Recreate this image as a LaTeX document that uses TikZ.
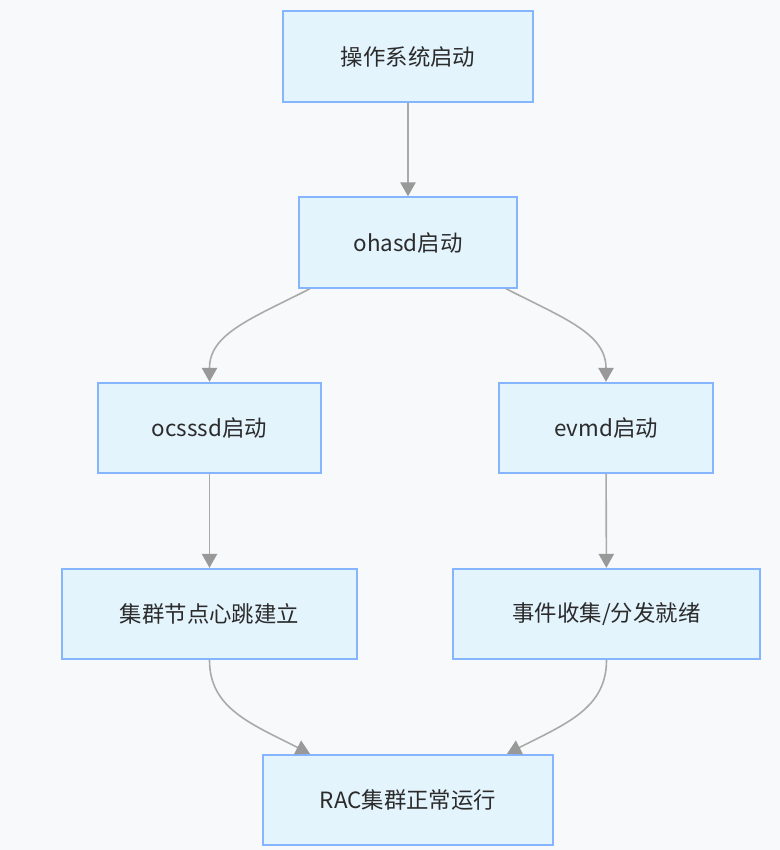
\documentclass[tikz,border=0pt]{standalone}
\usepackage{fontspec}
\setmainfont{Noto Sans CJK SC}
\usetikzlibrary{arrows.meta}
\definecolor{bgc}{HTML}{F8F9FA}
\definecolor{boxfill}{HTML}{E3F4FD}
\definecolor{boxline}{HTML}{85B5FF}
\definecolor{linec}{HTML}{AAAAAA}
\definecolor{tipc}{HTML}{999999}
\definecolor{txt}{HTML}{2B2B2B}
\begin{document}
\begin{tikzpicture}[x=0.75pt,y=-0.75pt,
  box/.style={draw=boxline,fill=boxfill,line width=1.3pt,minimum height=68pt,inner sep=0pt,text=txt,font=\fontsize{16.8}{20}\selectfont},
  arr/.style={draw=linec,line width=1.2pt,-{Triangle[width=11.5pt,length=10.5pt,fill=tipc,color=tipc]}}]
\fill[bgc] (0,0) rectangle (780,850);
\useasboundingbox (0,0) rectangle (780,850);
\node[box,minimum width=187.5pt] (b1) at (408,56.5) {操作系统启动};
\node[box,minimum width=163.5pt] (b2) at (408,242.5) {ohasd启动};
\node[box,minimum width=167.25pt] (b3) at (209.5,428) {ocsssd启动};
\node[box,minimum width=160.5pt] (b4) at (606,428) {evmd启动};
\node[box,minimum width=221.25pt] (b5) at (209.5,614) {集群节点心跳建立};
\node[box,minimum width=230.25pt] (b6) at (606.5,614) {事件收集/分发就绪};
\node[box,minimum width=217.5pt] (b7) at (408,800) {RAC集群正常运行};
\draw[arr] (b1) -- (b2);
\draw[arr] ([shift={(-98,0)}]b2.south) .. controls +(-59,30) and +(0,-48) .. (b3.north);
\draw[arr] ([shift={(98,0)}]b2.south) .. controls +(59,30) and +(0,-48) .. (b4.north);
\draw[arr] (b3) -- (b5);
\draw[arr] (b4) -- (b6);
\draw[arr] (b5.south) .. controls +(0,48) and +(-59,-30) .. ([shift={(-98,0)}]b7.north);
\draw[arr] (b6.south) .. controls +(0,48) and +(59,-30) .. ([shift={(99,0)}]b7.north);
\end{tikzpicture}
\end{document}
